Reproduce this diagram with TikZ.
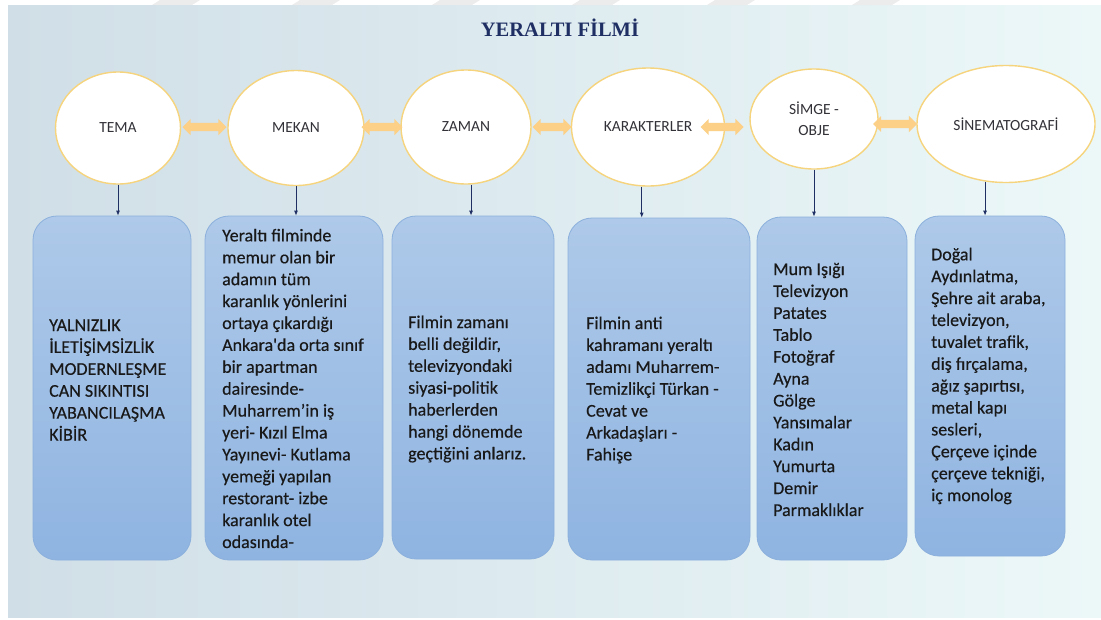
\documentclass[tikz,border=0pt]{standalone}
\usepackage{fontspec}
\setmainfont{Carlito}
\newfontfamily\cardfont[FakeBold=0.4]{Carlito}
\newfontfamily\titlefont{Liberation Serif}
\usetikzlibrary{shapes.geometric,shapes.arrows,arrows.meta}

\definecolor{bgleft}{RGB}{208,222,231}
\definecolor{bgright}{RGB}{236,248,248}
\definecolor{ovalline}{RGB}{246,212,125}
\definecolor{labelgray}{RGB}{50,50,56}
\definecolor{linkfill}{RGB}{252,208,135}
\definecolor{cardtop}{RGB}{174,201,233}
\definecolor{cardbottom}{RGB}{143,180,225}
\definecolor{cardline}{RGB}{140,176,220}
\definecolor{navy}{RGB}{31,47,100}
\definecolor{wmark}{RGB}{228,228,228}

\begin{document}
\begin{tikzpicture}[x=1pt,y=1pt,yscale=-1,
  oval/.style={ellipse, draw=ovalline, line width=1.4pt, fill=white, inner sep=0pt,
    font=\fontsize{15.5}{21}\selectfont, text=labelgray, align=center},
  link/.style={double arrow, double arrow head extend=4pt, inner xsep=0pt, inner ysep=4pt,
    text height=0pt, text depth=0pt, minimum width=0pt, fill=linkfill, draw=none},
  card/.style={rectangle, rounded corners=24pt, draw=cardline, line width=0.8pt,
    top color=cardtop, bottom color=cardbottom, inner sep=0pt},
  cardtext/.style={anchor=west, align=left, inner sep=0pt,
    font=\cardfont\fontsize{18}{21.9}\selectfont, text=black!90},
  feed/.style={-{Latex[length=5pt,width=4pt]}, draw=navy, line width=0.8pt}]

\useasboundingbox (0,0) rectangle (1101,619);

% background
\fill [left color=bgleft, right color=bgright] (8,5) rectangle (1101,617);
\foreach \x in {160,300,440,580,715,860}
  \fill [wmark, opacity=0.7] (\x,0) -- ++(40,0) -- ++(-8,5) -- ++(-40,0) -- cycle;

\node [font=\titlefont\bfseries\fontsize{20.5}{22}\selectfont, text=navy] (title) at (560,28) {YERALTI FİLMİ};

% begin ovals
\node [oval, minimum width=125pt, minimum height=112pt] (tema) at (118,128) {TEMA};
\node [oval, minimum width=136pt, minimum height=115pt] (mekan) at (296,128) {MEKAN};
\node [oval, minimum width=130pt, minimum height=114pt] (zaman) at (466,127) {ZAMAN};
\node [oval, minimum width=153pt, minimum height=118pt] (karakter) at (648,127) {KARAKTERLER};
\node [oval, minimum width=128pt, minimum height=100pt] (simge) at (814,119) {SİMGE -\\OBJE};
\node [oval, minimum width=178pt, minimum height=117pt] (sinema) at (1006,124) {SİNEMATOGRAFİ};

\node [link, minimum height=44pt] (l1) at (204.5,127) {};
\node [link, minimum height=41pt] (l2) at (382,127) {};
\node [link, minimum height=39pt] (l3) at (552,127) {};
\node [link, minimum height=43pt] (l4) at (722,127) {};
\node [link, minimum height=44pt] (l5) at (895,124) {};

% begin cards
\node [card, minimum width=158pt, minimum height=344pt] (c1) at (112,388) {};
\node [card, minimum width=178pt, minimum height=344pt] (c2) at (294,388) {};
\node [card, minimum width=162pt, minimum height=343pt] (c3) at (473,387.5) {};
\node [card, minimum width=182pt, minimum height=342pt] (c4) at (659,389) {};
\node [card, minimum width=150pt, minimum height=343pt] (c5) at (832,388.5) {};
\node [card, minimum width=150pt, minimum height=340pt] (c6) at (990,386) {};

\draw [feed] (tema.south) -- (tema.south |- c1.north);
\draw [feed] (mekan.south) -- (mekan.south |- c2.north);
\draw [feed] (zaman.275) -- (zaman.275 |- c3.north);
\draw [feed] (karakter.264) -- (karakter.264 |- c4.north);
\draw [feed] (simge.south) -- (simge.south |- c5.north);
\draw [feed] (sinema.250) -- (sinema.250 |- c6.north);

\node [cardtext] (t1) at (49,380) {YALNIZLIK\\İLETİŞİMSİZLİK\\MODERNLEŞME\\CAN SIKINTISI\\YABANCILAŞMA\\KİBİR};
\node [cardtext] (t2) at (222,388.5) {Yeraltı filminde\\memur olan bir\\adamın tüm\\karanlık yönlerini\\ortaya çıkardığı\\Ankara'da orta sınıf\\bir apartman\\dairesinde-\\Muharrem’in iş\\yeri- Kızıl Elma\\Yayınevi- Kutlama\\yemeği yapılan\\restorant- izbe\\karanlık otel\\odasında-};
\node [cardtext] (t3) at (408,389) {Filmin zamanı\\belli değildir,\\televizyondaki\\siyasi-politik\\haberlerden\\hangi dönemde\\geçtiğini anlarız.};
\node [cardtext] (t4) at (586,390) {Filmin anti\\kahramanı yeraltı\\adamı Muharrem-\\Temizlikçi Türkan -\\Cevat ve\\Arkadaşları -\\Fahişe};
\node [cardtext] (t5) at (773,389.5) {Mum Işığı\\Televizyon\\Patates\\Tablo\\Fotoğraf\\Ayna\\Gölge\\Yansımalar\\Kadın\\Yumurta\\Demir\\Parmaklıklar};
\node [cardtext] (t6) at (931,376) {Doğal\\Aydınlatma,\\Şehre ait araba,\\televizyon,\\tuvalet trafik,\\diş fırçalama,\\ağız şapırtısı,\\metal kapı\\sesleri,\\Çerçeve içinde\\çerçeve tekniği,\\iç monolog};
\end{tikzpicture}
\end{document}
